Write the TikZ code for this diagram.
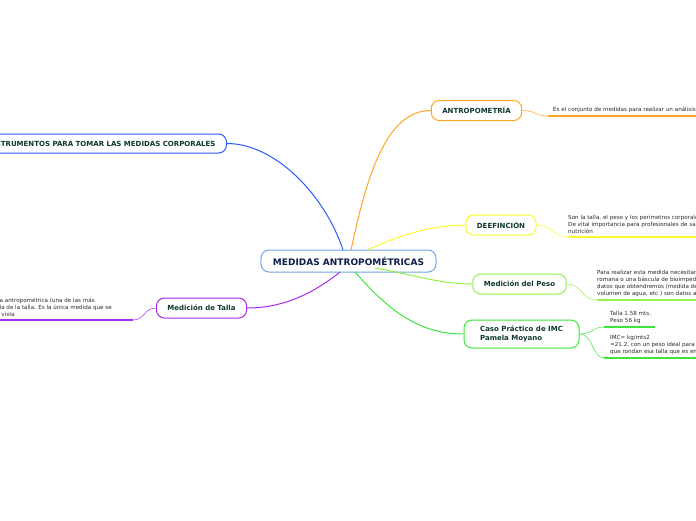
\documentclass[tikz,border=0pt]{standalone}
\usepackage{fontspec}
\setmainfont{DejaVu Sans}
\usetikzlibrary{positioning}

\definecolor{centreblue}{RGB}{110,165,225}
\definecolor{instrblue}{RGB}{40,90,255}
\definecolor{antroorange}{RGB}{255,165,35}
\definecolor{defyellow}{RGB}{250,250,40}
\definecolor{pesolime}{RGB}{145,240,70}
\definecolor{casogreen}{RGB}{60,230,60}
\definecolor{tallapurple}{RGB}{170,40,240}
\definecolor{topictext}{RGB}{15,55,50}
\definecolor{centretext}{RGB}{15,30,75}
\definecolor{notetext}{RGB}{40,40,40}

\begin{document}
\begin{tikzpicture}[
    x=1pt, y=-1pt,
    topic/.style={
        draw,
        line width=1pt,
        rounded corners=8pt,
        fill=white,
        text=topictext,
        font=\fontsize{7}{9}\selectfont\bfseries,
        inner xsep=11pt,
        minimum height=20pt
    },
    note/.style={
        anchor=south west,
        align=left,
        inner sep=1pt,
        text=notetext,
        font=\fontsize{5.6}{7}\selectfont
    },
    branch/.style={line width=1pt},
    twig/.style={line width=0.5pt},
    uline/.style={line width=1.5pt}
]

\useasboundingbox (0,0) rectangle (696,520);
\clip (0,0) rectangle (696,520);

% ------------------------
% Central topic
% ------------------------
\node (centre) [topic, draw=centreblue, text=centretext,
  font=\fontsize{9}{11}\selectfont\bfseries,
  inner xsep=12pt, minimum height=22pt] at (348.5,261)
{MEDIDAS ANTROPOMÉTRICAS};

% ------------------------
% Main topics
% ------------------------
\node (instr) [topic, draw=instrblue, anchor=east,
  minimum height=19pt] at (227,143.5)
{INSTRUMENTOS PARA TOMAR LAS MEDIDAS CORPORALES};

\node (antro) [topic, draw=antroorange] at (476.5,110.5)
{ANTROPOMETRÍA};

\node (defin) [topic, draw=defyellow] at (501,225)
{DEEFINCIÓN};

\node (peso) [topic, draw=pesolime] at (519.5,284)
{Medición del Peso};

\node (caso) [topic, draw=casogreen, align=left,
  minimum width=115pt, minimum height=28pt] at (521.5,334)
{Caso Práctico de IMC\\Pamela Moyano};

\node (talla) [topic, draw=tallapurple] at (201.5,308)
{Medición de Talla};

% ------------------------
% Notes
% ------------------------
\coordinate (ua) at (548,116);
\coordinate (ua2) at (700,116);
\node (na) [note] at (552,114)
{Es el conjunto de medidas para realizar un análisis};

\coordinate (ud) at (568,237);
\coordinate (ud2) at (700,237);
\node (nd) [note] at (567,235)
{Son la talla, el peso y los perímetros corporales\\
De vital importancia para profesionales de salud\\
nutrición};

\coordinate (up) at (597,300);
\coordinate (up2) at (700,300);
\node (np) [note] at (596,298)
{Para realizar esta medida necesitaremos\\
romana o una báscula de bioimpedancia\\
datos que obtendremos (medida de\\
volumen de agua, etc ) son datos ap};

\coordinate (uc) at (604,327);
\coordinate (uc2) at (655,327);
\node (nc) [note] at (609,325)
{Talla 1.58 mts.\\Peso 56 kg};

\coordinate (uk) at (604,358);
\coordinate (uk2) at (700,358);
\node (nk) [note] at (609,356)
{IMC= kg/mts2\\
=21.2, con un peso ideal para la\\
que rondan esa talla que es en};

\coordinate (ut) at (133,320);
\coordinate (ut2) at (-5,320);
\node (nt) [note] at (-1.5,318)
{a antropométrica (una de las más\\
la de la talla. Es la única medida que se\\
\ vista};

% ------------------------
% Branches
% ------------------------
\draw[branch, instrblue] (343,250) .. controls (325,195) and (275,143.5) .. (instr.east);
\draw[branch, antroorange] (351,250) .. controls (366,180) and (385,110.5) .. (antro.west);
\draw[branch, defyellow] (367,250) .. controls (405,233) and (435,225) .. (defin.west);
\draw[branch, pesolime] (375,268) .. controls (420,276) and (440,284) .. (peso.west);
\draw[branch, casogreen] (355,272) .. controls (390,312) and (420,334) .. (caso.west);
\draw[branch, tallapurple] (340,272) .. controls (310,296) and (280,308) .. (talla.east);

% ------------------------
% Twigs and underlines
% ------------------------
\draw[twig, antroorange] (antro.east) .. controls +(14,0) and +(-14,0) .. (ua);
\draw[uline, antroorange] (ua) -- (ua2);

\draw[twig, defyellow] (defin.east) .. controls +(16,0) and +(-16,0) .. (ud);
\draw[uline, defyellow] (ud) -- (ud2);

\draw[twig, pesolime] (peso.east) .. controls +(16,0) and +(-16,0) .. (up);
\draw[uline, pesolime] (up) -- (up2);

\draw[twig, casogreen] (caso.east) .. controls +(14,0) and +(-12,0) .. (uc);
\draw[uline, casogreen] (uc) -- (uc2);
\draw[twig, casogreen] (caso.east) .. controls +(14,0) and +(-12,0) .. (uk);
\draw[uline, casogreen] (uk) -- (uk2);

\draw[twig, tallapurple] (talla.west) .. controls +(-12,0) and +(12,0) .. (ut);
\draw[uline, tallapurple] (ut) -- (ut2);

\end{tikzpicture}
\end{document}
